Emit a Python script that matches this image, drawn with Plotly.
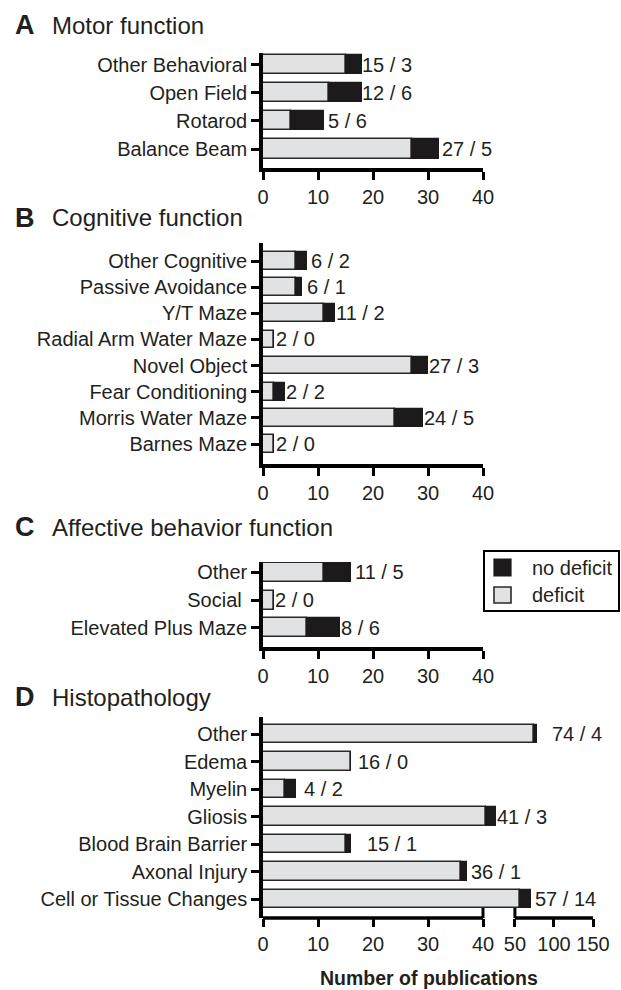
import numpy as np
import plotly.graph_objects as go

# ---- data (listed top to bottom as drawn) ----
motor_cats = ["Other Behavioral", "Open Field", "Rotarod", "Balance Beam"]
motor_deficit = [15, 12, 5, 27]
motor_no_deficit = [3, 6, 6, 5]

cog_cats = ["Other Cognitive", "Passive Avoidance", "Y/T Maze", "Radial Arm Water Maze",
            "Novel Object", "Fear Conditioning", "Morris Water Maze", "Barnes Maze"]
cog_deficit = [6, 6, 11, 2, 27, 2, 24, 2]
cog_no_deficit = [2, 1, 2, 0, 3, 2, 5, 0]

aff_cats = ["Other", "Social", "Elevated Plus Maze"]
aff_deficit = [11, 2, 8]
aff_no_deficit = [5, 0, 6]

histo_cats = ["Other", "Edema", "Myelin", "Gliosis", "Blood Brain Barrier",
              "Axonal Injury", "Cell or Tissue Changes"]
histo_deficit = [74, 16, 4, 41, 15, 36, 57]
histo_no_deficit = [4, 0, 2, 3, 1, 1, 14]

x_ticks_short = [0, 10, 20, 30, 40]
x_ticks_long = [0, 10, 20, 30, 40, 50, 100, 150]

# ---- styling ----
W, H = 621, 990
FONT = "Liberation Sans, Arial, Helvetica, sans-serif"
TXT = "#231f20"
LIGHT = "#e1e2e3"
DARK = "#1c1a1b"
EDGE = "#2b2829"

# Broken value axis: 0-40 linear, 40-50 short gap, 50-150 compressed
BREAK_IN = [0, 40, 50, 150]
BREAK_OUT = [0, 40, 45.8, 60.0]


def brk(v):
    return np.interp(np.asarray(v, dtype=float), BREAK_IN, BREAK_OUT)


def px_x(p):
    return p / W


def px_y(p):
    return 1 - p / H


# per-panel geometry; "gaps" are pixel offsets of the value labels from the bar ends
panels = [
    dict(letter="A", title="Motor function", cats=motor_cats, d=motor_deficit,
         n=motor_no_deficit, top=53, bottom=168, yr=(-0.674, 3.41), ty=25,
         gaps=[-2, -2, 2, 1], xmax=40),
    dict(letter="B", title="Cognitive function", cats=cog_cats, d=cog_deficit,
         n=cog_no_deficit, top=243, bottom=464, yr=(-0.765, 7.69), ty=218,
         gaps=[2, 3, -1, 0, -1, -1, -1, 0], xmax=40),
    dict(letter="C", title="Affective behavior function", cats=aff_cats, d=aff_deficit,
         n=aff_no_deficit, top=562, bottom=647, yr=(-0.68, 2.36), ty=527,
         gaps=[2, -1, -1], xmax=40),
    dict(letter="D", title="Histopathology", cats=histo_cats, d=histo_deficit,
         n=histo_no_deficit, top=717, bottom=918, yr=(-0.69, 6.62), ty=697,
         gaps=[13, 5, 6, -1, 14, 2, 2], xmax=150),
]

X_LEFT = 263
PX_PER_UNIT = 5.5

fig = go.Figure()
annotations = []
shapes = []
layout_axes = {}

for i, p in enumerate(panels, start=1):
    xa = "x" if i == 1 else f"x{i}"
    ya = "y" if i == 1 else f"y{i}"
    n_cat = len(p["cats"])
    ypos = list(range(n_cat - 1, -1, -1))  # first category on top
    d = np.array(p["d"], dtype=float)
    n = np.array(p["n"], dtype=float)
    d_end = brk(d)
    t_end = brk(d + n)

    fig.add_trace(go.Bar(
        y=ypos, x=d_end, base=0, orientation="h", width=0.68,
        marker=dict(color=LIGHT, line=dict(color=EDGE, width=1.6)),
        name="deficit", showlegend=False, xaxis=xa, yaxis=ya,
    ))
    fig.add_trace(go.Bar(
        y=ypos, x=t_end - d_end, base=d_end, orientation="h", width=0.68,
        marker=dict(color=DARK, line=dict(color=DARK, width=1.2)),
        name="no deficit", showlegend=False, xaxis=xa, yaxis=ya,
    ))

    # value labels "deficit / no deficit"
    for k in range(n_cat):
        annotations.append(dict(
            x=float(t_end[k]), y=ypos[k], xref=xa, yref=ya,
            text=f"{int(d[k])} / {int(n[k])}", showarrow=False,
            xanchor="left", yanchor="middle", xshift=p["gaps"][k],
            font=dict(family=FONT, size=20, color=TXT),
        ))

    xmax_axis = float(brk(p["xmax"]))
    ticks = x_ticks_long if p["xmax"] > 40 else x_ticks_short
    x_right = X_LEFT + xmax_axis * PX_PER_UNIT

    ticktext = [t + "\u00a0" if t == "Social" else t for t in p["cats"]]

    layout_axes["xaxis" if i == 1 else f"xaxis{i}"] = dict(
        domain=[px_x(X_LEFT), px_x(x_right)], anchor=ya, range=[0, xmax_axis],
        tickmode="array", tickvals=list(brk(ticks)), ticktext=[str(t) for t in ticks],
        ticks="outside", ticklen=8, tickwidth=3, tickcolor="black",
        showline=(p["xmax"] <= 40), linewidth=3.5, linecolor="black",
        showgrid=False, zeroline=False, fixedrange=True, automargin=False,
        tickfont=dict(family=FONT, size=20, color=TXT),
    )
    layout_axes["yaxis" if i == 1 else f"yaxis{i}"] = dict(
        domain=[px_y(p["bottom"]), px_y(p["top"])], anchor=xa, range=list(p["yr"]),
        tickmode="array", tickvals=ypos, ticktext=ticktext,
        ticks="outside", ticklen=8, tickwidth=3, tickcolor="black",
        showline=True, linewidth=3.5, linecolor="black",
        showgrid=False, zeroline=False, fixedrange=True, automargin=False,
        tickfont=dict(family=FONT, size=20, color=TXT),
    )

    # panel letter and title
    annotations.append(dict(
        x=px_x(13), y=px_y(p["ty"]), xref="paper", yref="paper", text=f"<b>{p['letter']}</b>",
        showarrow=False, xanchor="left", yanchor="middle",
        font=dict(family=FONT, size=27, color=TXT),
    ))
    annotations.append(dict(
        x=px_x(50), y=px_y(p["ty"]), xref="paper", yref="paper", text=p["title"],
        showarrow=False, xanchor="left", yanchor="middle",
        font=dict(family=FONT, size=24, color=TXT),
    ))

# broken x axis line for the histopathology panel
for lo, hi in [(0, 40), (50, 150)]:
    shapes.append(dict(
        type="line", xref="x4", yref="y4 domain", x0=float(brk(lo)), x1=float(brk(hi)),
        y0=0, y1=0, line=dict(color="black", width=3.5),
    ))
for v in (40, 50):
    shapes.append(dict(
        type="line", xref="x4", yref="y4 domain", x0=float(brk(v)), x1=float(brk(v)),
        ysizemode="pixel", yanchor=0, y0=0, y1=10, line=dict(color="black", width=3),
    ))

# legend box
shapes.append(dict(type="rect", xref="paper", yref="paper",
                   x0=px_x(484), x1=px_x(619), y0=px_y(611), y1=px_y(551),
                   line=dict(color="black", width=2), fillcolor="white"))
shapes.append(dict(type="rect", xref="paper", yref="paper",
                   x0=px_x(494), x1=px_x(511), y0=px_y(576), y1=px_y(559),
                   line=dict(color=DARK, width=1.2), fillcolor=DARK))
shapes.append(dict(type="rect", xref="paper", yref="paper",
                   x0=px_x(494), x1=px_x(511), y0=px_y(603), y1=px_y(587),
                   line=dict(color=EDGE, width=1.6), fillcolor=LIGHT))
for label, yc in (("no deficit", 568), ("deficit", 595)):
    annotations.append(dict(
        x=px_x(530), y=px_y(yc), xref="paper", yref="paper", text=label,
        showarrow=False, xanchor="left", yanchor="middle",
        font=dict(family=FONT, size=20, color=TXT),
    ))

# shared axis title
annotations.append(dict(
    x=px_x(429), y=px_y(978), xref="paper", yref="paper", text="<b>Number of publications</b>",
    showarrow=False, xanchor="center", yanchor="middle",
    font=dict(family=FONT, size=19.5, color=TXT),
))

fig.update_layout(
    width=W, height=H, margin=dict(l=0, r=0, t=0, b=0, autoexpand=False),
    paper_bgcolor="white", plot_bgcolor="white",
    barmode="overlay", bargap=0, showlegend=False,
    annotations=annotations, shapes=shapes, **layout_axes,
)
for tr in fig.data:
    tr.cliponaxis = False

fig.write_html("out.html", config={"displayModeBar": False})
